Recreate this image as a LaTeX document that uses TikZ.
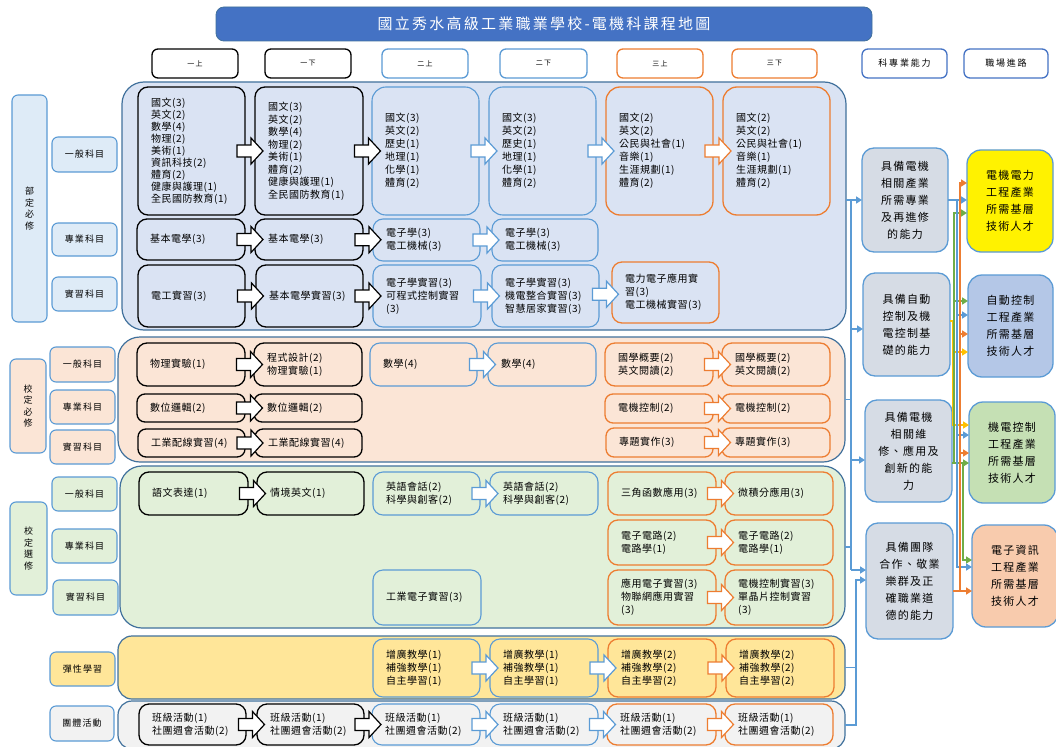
\documentclass[tikz,border=0pt]{standalone}
\usepackage{fontspec}
\setmainfont{Noto Sans CJK TC}
\newfontfamily\cjkls[LetterSpace=5]{Noto Sans CJK TC}
\newfontfamily\cjklab[LetterSpace=12]{Noto Sans CJK TC}
\newfontfamily\cjkhead[LetterSpace=20]{Noto Sans CJK TC}
\newfontfamily\cjkcap[LetterSpace=12]{Noto Sans CJK TC}
\newfontfamily\cjktitle[LetterSpace=15]{Noto Sans CJK TC}
\usetikzlibrary{calc,arrows.meta}
\definecolor{boxblue}{HTML}{5B9BD5}
\definecolor{boxorange}{HTML}{ED7D31}
\definecolor{secline}{HTML}{41719C}
\definecolor{titleblue}{HTML}{4472C4}
\definecolor{fblue}{HTML}{DAE3F3}
\definecolor{flblue}{HTML}{DEEBF7}
\definecolor{forange}{HTML}{FBE5D6}
\definecolor{fgreen}{HTML}{E2F0D9}
\definecolor{fyellow}{HTML}{FFE699}
\definecolor{fgray}{HTML}{F2F2F2}
\definecolor{fcap}{HTML}{D6DCE5}
\definecolor{kblue}{HTML}{B4C7E7}
\definecolor{kgreen}{HTML}{C5E0B4}
\definecolor{korange}{HTML}{F8CBAD}
\definecolor{lgreen}{HTML}{70AD47}
\definecolor{lyellow}{HTML}{FFC000}
\newcommand\crsbox[8][]{%
  \node[#7, minimum width={#5-#3}, minimum height={#6-#4}] (#2) at ({(#3+#5)/2},{(#4+#6)/2}) {};
  \node[ctext,#1, anchor=west] (#2t) at ([xshift=13pt]#2.west) {#8};}
\newcommand\lblbox[7]{%
  \node[#6, minimum width={#4-#2}, minimum height={#5-#3}] (#1) at ({(#2+#4)/2},{(#3+#5)/2}) {#7};}
\newcommand\blkarrow[3]{%
  \path ($(#1.east)!0.5!(#2.west)$) coordinate (ba);
  \draw[blockarrow, draw=#3] ($(ba)+(-13,-6)$) -- ++(14,0) -- ++(0,-7) -- ++(12,13) -- ++(-12,13) -- ++(0,-7) -- ++(-14,0) -- cycle;}
\tikzset{
  crs/.style={draw, rounded corners=10pt, line width=1.3pt, inner sep=0pt, outer sep=0pt},
  bkbox/.style={crs, draw=black},
  bubox/.style={crs, draw=boxblue, line width=1.1pt},
  ogbox/.style={crs, draw=boxorange},
  ctext/.style={align=left, inner sep=0pt, font=\cjkls\fontsize{10}{13}\selectfont},
  secbox/.style={draw=secline, line width=1.2pt, rounded corners=22pt, inner sep=0pt, outer sep=0pt},
  labbox/.style={draw=boxblue, line width=1.1pt, rounded corners=6pt, inner sep=0pt, outer sep=0pt, align=center, font=\cjklab\fontsize{9}{11.5}\selectfont},
  headbox/.style={draw, line width=1.3pt, rounded corners=6pt, fill=white, inner sep=0pt, outer sep=0pt, font=\cjkhead\fontsize{7}{9}\selectfont},
  capbox/.style={draw=boxblue, line width=1.3pt, rounded corners=12pt, inner sep=0pt, outer sep=0pt, align=center, font=\cjkcap\fontsize{11}{17}\selectfont},
  blockarrow/.style={fill=white, line width=1.2pt, line join=miter},
  cline/.style={line width=1.8pt},
  tip/.style={-{Triangle[length=6pt,width=7pt]}},
}
\begin{document}
\begin{tikzpicture}[x=1pt,y=-1pt]
\fill[white] (0,0) rectangle (1056,746);
\useasboundingbox (0,0) rectangle (1056,746);
% title
\lblbox{T}{216}{7}{872}{41}{fill=titleblue, draw=secline, line width=0.8pt, rounded corners=8pt, text=white, font=\cjktitle\fontsize{15}{18}\selectfont}{國立秀水高級工業職業學校-電機科課程地圖}
% headers
\lblbox{H1}{152}{49}{238}{78}{headbox, draw=black}{一上}
\lblbox{H2}{265}{49}{351}{78}{headbox, draw=black}{一下}
\lblbox{H3}{382}{49}{468}{78}{headbox, draw=boxblue}{二上}
\lblbox{H4}{500}{49}{587}{78}{headbox, draw=boxblue}{二下}
\lblbox{H5}{617}{49}{703}{78}{headbox, draw=boxorange}{三上}
\lblbox{H6}{732}{49}{817}{78}{headbox, draw=boxorange}{三下}
\lblbox{H7}{862}{49}{947}{78}{headbox, draw=titleblue, font=\cjkhead\fontsize{9}{11}\selectfont}{科專業能力}
\lblbox{H8}{964}{49}{1048}{78}{headbox, draw=titleblue, font=\cjkhead\fontsize{9}{11}\selectfont}{職場進路}
% sections
\lblbox{S1}{122}{82}{846}{330}{secbox, fill=fblue}{}
\lblbox{S2}{118}{337}{845}{462}{secbox, fill=forange}{}
\lblbox{S3}{120}{466}{845}{628}{secbox, fill=fgreen}{}
\lblbox{S4}{118}{636}{845}{699}{secbox, fill=fyellow, rounded corners=14pt}{}
\lblbox{S5}{118}{701}{845}{749}{secbox, fill=fgray, rounded corners=14pt}{}
% left labels
\lblbox{L1}{12}{95}{47}{322}{labbox, fill=flblue}{部\\定\\必\\修}
\lblbox{L1a}{52}{137}{117}{172}{labbox, fill=flblue}{一般科目}
\lblbox{L1b}{52}{223}{117}{256}{labbox, fill=flblue}{專業科目}
\lblbox{L1c}{52}{277}{117}{311}{labbox, fill=flblue}{實習科目}
\lblbox{L2}{10}{359}{46}{453}{labbox, fill=forange}{校\\定\\必\\修}
\lblbox{L2a}{50}{347}{115}{382}{labbox, fill=forange}{一般科目}
\lblbox{L2b}{50}{390}{115}{424}{labbox, fill=forange}{專業科目}
\lblbox{L2c}{50}{430}{115}{464}{labbox, fill=forange}{實習科目}
\lblbox{L3}{10}{502}{47}{595}{labbox, fill=fgreen}{校\\定\\選\\修}
\lblbox{L3a}{52}{477}{117}{511}{labbox, fill=fgreen}{一般科目}
\lblbox{L3b}{52}{529}{117}{563}{labbox, fill=fgreen}{專業科目}
\lblbox{L3c}{53}{580}{118}{615}{labbox, fill=fgreen}{實習科目}
\lblbox{L4}{50}{652}{115}{686}{labbox, fill=fyellow}{彈性學習}
\lblbox{L5}{50}{706}{114}{741}{labbox, fill=fgray}{團體活動}
% row a1
\crsbox[font=\cjkls\fontsize{10}{12}\selectfont]{a11}{138}{87}{245}{215}{bkbox}{國文(3)\\英文(2)\\數學(4)\\物理(2)\\美術(1)\\資訊科技(2)\\體育(2)\\健康與護理(1)\\全民國防教育(1)}
\crsbox[font=\cjkls\fontsize{10}{12.5}\selectfont]{a12}{255}{87}{363}{215}{bkbox}{國文(3)\\英文(2)\\數學(4)\\物理(2)\\美術(1)\\體育(2)\\健康與護理(1)\\全民國防教育(1)}
\crsbox{a13}{372}{87}{479}{215}{bubox, rounded corners=14pt}{國文(3)\\英文(2)\\歷史(1)\\地理(1)\\化學(1)\\體育(2)}
\crsbox{a14}{489}{87}{596}{215}{bubox, rounded corners=14pt}{國文(3)\\英文(2)\\歷史(1)\\地理(1)\\化學(1)\\體育(2)}
\crsbox{a15}{606}{87}{713}{215}{ogbox, rounded corners=14pt}{國文(2)\\英文(2)\\公民與社會(1)\\音樂(1)\\生涯規劃(1)\\體育(2)}
\crsbox{a16}{723}{87}{830}{215}{ogbox, rounded corners=14pt}{國文(2)\\英文(2)\\公民與社會(1)\\音樂(1)\\生涯規劃(1)\\體育(2)}
% row a2
\crsbox{a21}{137}{219}{245}{260}{bkbox}{基本電學(3)}
\crsbox{a22}{255}{219}{363}{260}{bkbox}{基本電學(3)}
\crsbox{a23}{373}{219}{480}{261}{bubox}{電子學(3)\\電工機械(3)}
\crsbox{a24}{492}{219}{598}{261}{bubox}{電子學(3)\\電工機械(3)}
% row a3
\crsbox{a31}{138}{265}{245}{327}{bkbox}{電工實習(3)}
\crsbox{a32}{256}{265}{363}{327}{bkbox}{基本電學實習(3)}
\crsbox{a33}{373}{265}{481}{327}{bubox}{電子學實習(3)\\可程式控制實習\\(3)}
\crsbox{a34}{492}{265}{599}{327}{bubox}{電子學實習(3)\\機電整合實習(3)\\智慧居家實習(3)}
\crsbox{a35}{612}{262}{719}{323}{ogbox}{電力電子應用實\\習(3)\\電工機械實習(3)}
% row b
\crsbox{b11}{137}{343}{245}{386}{bkbox}{物理實驗(1)}
\crsbox{b12}{254}{343}{362}{386}{bkbox}{程式設計(2)\\物理實驗(1)}
\crsbox{b13}{370}{343}{477}{386}{bubox}{數學(4)}
\crsbox{b14}{488}{343}{596}{386}{bubox}{數學(4)}
\crsbox{b15}{605}{343}{713}{386}{ogbox}{國學概要(2)\\英文閱讀(2)}
\crsbox{b16}{722}{343}{830}{386}{ogbox}{國學概要(2)\\英文閱讀(2)}
\crsbox{b21}{137}{394}{245}{422}{bkbox, rounded corners=8pt}{數位邏輯(2)}
\crsbox{b22}{254}{394}{362}{422}{bkbox, rounded corners=8pt}{數位邏輯(2)}
\crsbox{b25}{605}{394}{713}{423}{ogbox, rounded corners=8pt}{電機控制(2)}
\crsbox{b26}{722}{394}{830}{423}{ogbox, rounded corners=8pt}{電機控制(2)}
\crsbox{b31}{138}{429}{245}{457}{bkbox, rounded corners=8pt}{工業配線實習(4)}
\crsbox{b32}{255}{429}{362}{457}{bkbox, rounded corners=8pt}{工業配線實習(4)}
\crsbox{b35}{606}{428}{713}{457}{ogbox, rounded corners=8pt}{專題實作(3)}
\crsbox{b36}{722}{428}{830}{457}{ogbox, rounded corners=8pt}{專題實作(3)}
% row c
\crsbox{c11}{139}{472}{248}{515}{bkbox}{語文表達(1)}
\crsbox{c12}{257}{472}{364}{515}{bkbox}{情境英文(1)}
\crsbox{c13}{373}{472}{480}{515}{bubox}{英語會話(2)\\科學與創客(2)}
\crsbox{c14}{490}{472}{598}{515}{bubox}{英語會話(2)\\科學與創客(2)}
\crsbox{c15}{608}{472}{716}{515}{ogbox}{三角函數應用(3)}
\crsbox{c16}{725}{472}{833}{515}{ogbox}{微積分應用(3)}
\crsbox{c25}{608}{520}{716}{565}{ogbox}{電子電路(2)\\電路學(1)}
\crsbox{c26}{725}{520}{833}{565}{ogbox}{電子電路(2)\\電路學(1)}
\crsbox{c33}{373}{570}{481}{625}{bubox}{工業電子實習(3)}
\crsbox{c35}{608}{570}{716}{625}{ogbox}{應用電子實習(3)\\物聯網應用實習\\(3)}
\crsbox{c36}{725}{570}{833}{625}{ogbox}{電機控制實習(3)\\單晶片控制實習\\(3)}
% row d
\crsbox{d13}{373}{639}{480}{697}{bubox}{增廣教學(1)\\補強教學(1)\\自主學習(1)}
\crsbox{d14}{490}{639}{598}{697}{bubox}{增廣教學(1)\\補強教學(1)\\自主學習(1)}
\crsbox{d15}{608}{639}{716}{697}{ogbox}{增廣教學(2)\\補強教學(2)\\自主學習(2)}
\crsbox{d16}{726}{639}{834}{697}{ogbox}{增廣教學(2)\\補強教學(2)\\自主學習(2)}
% row e
\crsbox{e11}{139}{704}{246}{745}{bkbox}{班級活動(1)\\社團週會活動(2)}
\crsbox{e12}{257}{704}{364}{745}{bkbox}{班級活動(1)\\社團週會活動(2)}
\crsbox{e13}{372}{704}{480}{745}{bubox}{班級活動(1)\\社團週會活動(2)}
\crsbox{e14}{490}{704}{598}{745}{bubox}{班級活動(1)\\社團週會活動(2)}
\crsbox{e15}{607}{704}{716}{745}{ogbox}{班級活動(1)\\社團週會活動(2)}
\crsbox{e16}{725}{704}{833}{745}{ogbox}{班級活動(1)\\社團週會活動(2)}
% block arrows
\blkarrow{a11}{a12}{black}\blkarrow{a12}{a13}{black}\blkarrow{a13}{a14}{boxblue}\blkarrow{a14}{a15}{boxblue}\blkarrow{a15}{a16}{boxorange}
\blkarrow{a21}{a22}{black}\blkarrow{a22}{a23}{black}\blkarrow{a23}{a24}{boxblue}
\blkarrow{a31}{a32}{black}\blkarrow{a32}{a33}{black}\blkarrow{a33}{a34}{boxblue}\blkarrow{a34}{a35}{boxblue}
\blkarrow{b11}{b12}{black}\blkarrow{b13}{b14}{boxblue}\blkarrow{b15}{b16}{boxorange}
\blkarrow{b21}{b22}{black}\blkarrow{b25}{b26}{boxorange}
\blkarrow{b31}{b32}{black}\blkarrow{b35}{b36}{boxorange}
\blkarrow{c11}{c12}{black}\blkarrow{c13}{c14}{boxblue}\blkarrow{c15}{c16}{boxorange}
\blkarrow{c25}{c26}{boxorange}\blkarrow{c35}{c36}{boxorange}
\blkarrow{d13}{d14}{boxblue}\blkarrow{d14}{d15}{boxblue}\blkarrow{d15}{d16}{boxorange}
\blkarrow{e11}{e12}{black}\blkarrow{e12}{e13}{black}\blkarrow{e13}{e14}{boxblue}\blkarrow{e14}{e15}{boxblue}\blkarrow{e15}{e16}{boxorange}
% capability boxes
\lblbox{C1}{862}{148}{948}{252}{capbox, fill=fcap}{具備電機\\相關產業\\所需專業\\及再進修\\的能力}
\lblbox{C2}{863}{273}{950}{376}{capbox, fill=fcap}{具備自動\\控制及機\\電控制基\\礎的能力}
\lblbox{C3}{865}{400}{952}{502}{capbox, fill=fcap}{具備電機\\相關維\\修、應用及\\創新的能\\力}
\lblbox{C4}{866}{523}{953}{639}{capbox, fill=fcap}{具備團隊\\合作、敬業\\樂群及正\\確職業道\\德的能力}
% career boxes
\lblbox{K1}{967}{150}{1053}{252}{capbox, fill=yellow, rounded corners=14pt}{電機電力\\工程產業\\所需基層\\技術人才}
\lblbox{K2}{968}{275}{1053}{377}{capbox, fill=kblue, rounded corners=14pt}{自動控制\\工程產業\\所需基層\\技術人才}
\lblbox{K3}{969}{402}{1055}{503}{capbox, fill=kgreen, rounded corners=14pt}{機電控制\\工程產業\\所需基層\\技術人才}
\lblbox{K4}{972}{525}{1058}{627}{capbox, fill=korange, rounded corners=14pt}{電子資訊\\工程產業\\所需基層\\技術人才}
% left bus
\coordinate (bt) at (851,200);
\coordinate (bb) at (851,570);
\coordinate (bt2) at (856,580);
\draw[cline, draw=boxblue, tip] (S1.east |- C1.west) -- (C1.west);
\draw[cline, draw=boxblue] (bt) -- (bb);
\draw[cline, draw=boxblue, tip] (bt |- 0,329) -- (C2.west |- 0,329);
\draw[cline, draw=boxblue, tip] (bt |- 0,460) -- (C3.west |- 0,460);
\draw[cline, draw=boxblue, tip] (bb) -- (C4.west |- bb);
\draw[cline, draw=boxblue] (S2.east) -- (S2.east -| bt);
\draw[cline, draw=boxblue] (S3.east) -- (S3.east -| bt);
\draw[cline, draw=boxblue] (S4.east) -- (S4.east -| bt2);
\draw[cline, draw=boxblue, tip] (S5.east) -| (bt2) -- (C4.west |- bt2);
% right fan: yellow
\coordinate (yv) at (953,321);
\draw[cline, draw=lyellow, tip] (C2.east |- yv) -- (yv) |- (K3.west |- 0,425);
\draw[cline, draw=lyellow, tip] (yv |- 0,352) -- (K2.west |- 0,352);
% green
\coordinate (gv) at (954,463);
\coordinate (gv2) at (963,463);
\draw[cline, draw=lgreen, tip] (C3.east |- gv) -- (K3.west |- gv);
\draw[cline, draw=lgreen, tip] (gv) |- (K1.west |- 0,213);
\draw[cline, draw=lgreen, tip] (gv |- 0,301) -- (K2.west |- 0,301);
\draw[cline, draw=lgreen, tip] (gv2) |- (K4.west |- 0,560);
% blue
\coordinate (bv) at (957,200);
\draw[cline, draw=boxblue, tip] (C1.east) -- (K1.west |- C1.east);
\draw[cline, draw=boxblue, tip] (bv) |- (K4.west |- 0,567);
\draw[cline, draw=boxblue, tip] (bv |- 0,315) -- (K2.west |- 0,315);
\draw[cline, draw=boxblue, tip] (bv |- 0,435) -- (K3.west |- 0,435);
% orange
\coordinate (ov) at (960,591);
\draw[cline, draw=boxorange, tip] (C4.east |- ov) -- (K4.west |- ov);
\draw[cline, draw=boxorange, tip] (ov) |- (K1.west |- 0,183);
\draw[cline, draw=boxorange, tip] (ov |- 0,334) -- (K2.west |- 0,334);
\draw[cline, draw=boxorange, tip] (ov |- 0,453) -- (K3.west |- 0,453);
\end{tikzpicture}
\end{document}
